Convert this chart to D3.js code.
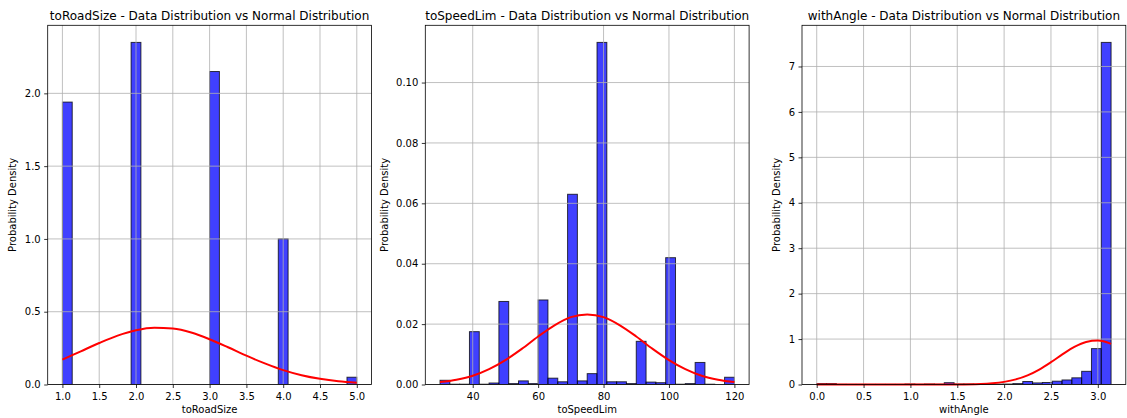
<!DOCTYPE html>
<html>
<head>
<meta charset="utf-8">
<script src="https://cdn.jsdelivr.net/npm/d3@7"></script>
<style>
	body { margin: 0; background: #fff; }
	svg { display: block; }
	text { font-family: "DejaVu Sans", sans-serif; fill: #000; }
	.tick line { stroke: #000; stroke-width: 0.8; }
	.tick text { font-size: 10px; }
	.grid line { stroke: #b0b0b0; stroke-width: 0.8; }
</style>
</head>
<body>
<script>
// ---- data ----
// histogram densities, 30 equal bins each
var roadSizeRange = [1, 5];
var roadSizeDensity = [1.94, 0, 0, 0, 0, 0, 0, 2.35, 0, 0, 0, 0, 0, 0, 0,
	2.15, 0, 0, 0, 0, 0, 0, 1.0, 0, 0, 0, 0, 0, 0, 0.05];
var roadSizeCurveX = [1, 1.25, 1.5, 1.75, 2, 2.25, 2.5, 2.75, 3, 3.25, 3.5, 3.75, 4, 4.25, 4.5, 4.75, 5];
var roadSizeCurveY = [0.171, 0.228, 0.285, 0.336, 0.373, 0.390, 0.384, 0.357, 0.311, 0.256, 0.198, 0.145, 0.099, 0.064, 0.039, 0.022, 0.012];
var roadSizeXTicks = [1, 1.5, 2, 2.5, 3, 3.5, 4, 4.5, 5];
var roadSizeYTicks = [0, 0.5, 1, 1.5, 2];

var speedLimRange = [30, 120];
var speedLimDensity = [0.0014, 0.0001, 0.0001, 0.0175, 0.0001, 0.0005, 0.0275, 0.0003, 0.0012, 0.0003,
	0.028, 0.0021, 0.0009, 0.063, 0.0012, 0.0036, 0.1133, 0.0009, 0.0009, 0.0003,
	0.0143, 0.0008, 0.0006, 0.042, 0.0001, 0.0003, 0.0073, 0.0001, 0, 0.0024];
var speedLimCurveX = [30, 35, 40, 45, 50, 55, 60, 65, 70, 75, 80, 85, 90, 95, 100, 105, 110, 115, 120];
var speedLimCurveY = [0.0008, 0.0016, 0.0029, 0.0051, 0.0081, 0.0118, 0.0159, 0.0196, 0.0223, 0.0232,
	0.0223, 0.0196, 0.0159, 0.0118, 0.0081, 0.0051, 0.0029, 0.0016, 0.0008];
var speedLimXTicks = [40, 60, 80, 100, 120];
var speedLimYTicks = [0, 0.02, 0.04, 0.06, 0.08, 0.10];

var angleRange = [0, Math.PI];
var angleDensity = [0.02, 0.02, 0.003, 0.002, 0.002, 0.002, 0.002, 0.002, 0.002, 0.01,
	0.004, 0.01, 0.005, 0.04, 0.01, 0.01, 0.005, 0.005, 0.008, 0.01,
	0.02, 0.066, 0.035, 0.044, 0.073, 0.10, 0.147, 0.29, 0.79, 7.53];
var angleCurveX = [0, 0.5, 1, 1.25, 1.5, 1.75, 1.875, 2, 2.125, 2.25, 2.375, 2.5, 2.625, 2.75, 2.875, 3, Math.PI];
var angleCurveY = [0, 0, 0, 0.0002, 0.0016, 0.0113, 0.027, 0.058, 0.113, 0.202, 0.330, 0.491, 0.668, 0.828, 0.936, 0.966, 0.895];
var angleXTicks = [0, 0.5, 1, 1.5, 2, 2.5, 3];
var angleYTicks = [0, 1, 2, 3, 4, 5, 6, 7];

var panels = [
	{ name: "toRoadSize", range: roadSizeRange, density: roadSizeDensity, cx: roadSizeCurveX, cy: roadSizeCurveY,
		xticks: roadSizeXTicks, yticks: roadSizeYTicks, xfmt: ".1f", yfmt: ".1f", left: 47.7 },
	{ name: "toSpeedLim", range: speedLimRange, density: speedLimDensity, cx: speedLimCurveX, cy: speedLimCurveY,
		xticks: speedLimXTicks, yticks: speedLimYTicks, xfmt: "d", yfmt: ".2f", left: 425.3 },
	{ name: "withAngle", range: angleRange, density: angleDensity, cx: angleCurveX, cy: angleCurveY,
		xticks: angleXTicks, yticks: angleYTicks, xfmt: ".1f", yfmt: "d", left: 802 }
];

var width = 1127,
	height = 418,
	axTop = 25.3,
	axBottom = 384.5,
	axWidth = 323.8;

var svg = d3.select("body")
	.append("svg")
	.attr("width", width)
	.attr("height", height);

panels.forEach(drawPanel);

function drawPanel(p) {
	var h = axBottom - axTop;
	var lo = p.range[0], hi = p.range[1], pad = (hi - lo) * 0.05;
	var n = p.density.length, bw = (hi - lo) / n;

	var x = d3.scaleLinear().domain([lo - pad, hi + pad]).range([0, axWidth]);
	var y = d3.scaleLinear().domain([0, d3.max(p.density) * 1.05]).range([h, 0]);

	var g = svg.append("g")
		.attr("transform", "translate(" + p.left + "," + axTop + ")");

	// bars
	g.append("g")
		.selectAll("rect")
		.data(p.density)
		.enter().append("rect")
		.attr("x", function(d, i) { return x(lo + i * bw); })
		.attr("width", function(d, i) { return x(lo + (i + 1) * bw) - x(lo + i * bw); })
		.attr("y", function(d) { return y(d); })
		.attr("height", function(d) { return h - y(d); })
		.attr("fill", "rgba(0,0,255,0.75)")
		.attr("stroke", "rgba(0,0,0,0.75)")
		.attr("stroke-width", 1);

	// grid (drawn over the bars like matplotlib)
	var grid = g.append("g").attr("class", "grid");
	grid.selectAll(".gx")
		.data(p.xticks)
		.enter().append("line")
		.attr("x1", function(d) { return x(d); })
		.attr("x2", function(d) { return x(d); })
		.attr("y1", 0)
		.attr("y2", h);
	grid.selectAll(".gy")
		.data(p.yticks)
		.enter().append("line")
		.attr("x1", 0)
		.attr("x2", axWidth)
		.attr("y1", function(d) { return y(d); })
		.attr("y2", function(d) { return y(d); });

	// normal curve
	var line = d3.line()
		.x(function(d) { return x(d[0]); })
		.y(function(d) { return y(d[1]); })
		.curve(d3.curveMonotoneX);

	g.append("path")
		.datum(d3.zip(p.cx, p.cy))
		.attr("d", line)
		.attr("fill", "none")
		.attr("stroke", "#ff0000")
		.attr("stroke-width", 2);

	// axes
	g.append("g")
		.attr("transform", "translate(0," + h + ")")
		.call(d3.axisBottom(x)
			.tickValues(p.xticks)
			.tickFormat(d3.format(p.xfmt))
			.tickSizeInner(3.5)
			.tickSizeOuter(0)
			.tickPadding(4.5))
		.select(".domain").remove();

	var yAxis = g.append("g")
		.call(d3.axisLeft(y)
			.tickValues(p.yticks)
			.tickFormat(d3.format(p.yfmt))
			.tickSizeInner(3.5)
			.tickSizeOuter(0)
			.tickPadding(3.5));
	yAxis.select(".domain").remove();

	// frame
	g.append("rect")
		.attr("width", axWidth)
		.attr("height", h)
		.attr("fill", "none")
		.attr("stroke", "#000")
		.attr("stroke-width", 0.8);

	// labels
	g.append("text")
		.attr("x", axWidth / 2)
		.attr("y", -5.5)
		.attr("text-anchor", "middle")
		.attr("font-size", "12px")
		.text(p.name + " - Data Distribution vs Normal Distribution");

	g.append("text")
		.attr("x", axWidth / 2)
		.attr("y", h + 28.5)
		.attr("text-anchor", "middle")
		.attr("font-size", "10px")
		.text(p.name);

	var tb = yAxis.node().getBBox();
	g.append("text")
		.attr("transform", "translate(" + (tb.x - 8.5) + "," + (h / 2) + ") rotate(-90)")
		.attr("text-anchor", "middle")
		.attr("font-size", "10px")
		.text("Probability Density");
}
</script>
</body>
</html>
